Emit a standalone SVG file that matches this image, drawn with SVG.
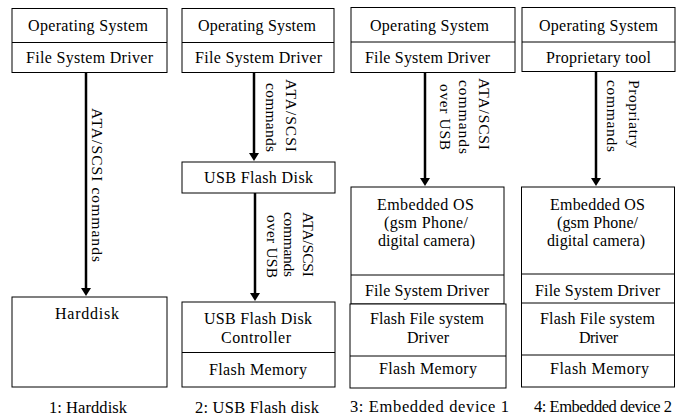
<svg xmlns="http://www.w3.org/2000/svg" width="684" height="416" viewBox="0 0 684 416">
<style>
.box{fill:#fff;stroke:#000;stroke-width:1}
.div{stroke:#000;stroke-width:1}
.t{font-family:"Liberation Serif","Times New Roman",serif;font-size:16px;fill:#000;text-anchor:middle}
.v{font-family:"Liberation Serif","Times New Roman",serif;font-size:15.5px;fill:#000}
.cap{font-family:"Liberation Serif","Times New Roman",serif;font-size:16.5px;fill:#000;text-anchor:middle}
.arr{stroke:#000;stroke-width:2.5;fill:none;marker-end:url(#ah)}
</style>
<defs>
<marker id="ah" viewBox="0 0 8 10" refX="2" refY="5" markerWidth="8" markerHeight="10" markerUnits="userSpaceOnUse" orient="auto">
<path d="M0,0 L8,5 L0,10 z" fill="#000"/>
</marker>
</defs>
<rect width="684" height="416" fill="#fff"/>

<g id="connectors">
<line class="arr" x1="86" y1="72" x2="86" y2="290"/>
<line class="arr" x1="254" y1="72" x2="254" y2="155"/>
<line class="arr" x1="255" y1="193" x2="255" y2="295"/>
<line class="arr" x1="425" y1="73" x2="425" y2="180"/>
<line class="arr" x1="596" y1="71" x2="596" y2="180"/>
<text class="v" transform="translate(92,108) rotate(90)" textLength="154" lengthAdjust="spacing">ATA/SCSI commands</text>
<text class="v" transform="translate(286,79) rotate(90)" textLength="73" lengthAdjust="spacing">ATA/SCSI</text>
<text class="v" transform="translate(266,83) rotate(90)" textLength="69" lengthAdjust="spacing">commands</text>
<text class="v" transform="translate(303,212) rotate(90)" textLength="65" lengthAdjust="spacing">ATA/SCSI</text>
<text class="v" transform="translate(284,212) rotate(90)" textLength="65" lengthAdjust="spacing">commands</text>
<text class="v" transform="translate(267,215) rotate(90)" textLength="63" lengthAdjust="spacing">over USB</text>
<text class="v" transform="translate(479,78) rotate(90)" textLength="72" lengthAdjust="spacing">ATA/SCSI</text>
<text class="v" transform="translate(459,80) rotate(90)" textLength="74" lengthAdjust="spacing">commands</text>
<text class="v" transform="translate(440,84) rotate(90)" textLength="66" lengthAdjust="spacing">over USB</text>
<text class="v" transform="translate(629,80) rotate(90)" textLength="68" lengthAdjust="spacing">Propriatry</text>
<text class="v" transform="translate(607,80) rotate(90)" textLength="72" lengthAdjust="spacing">commands</text>
</g>

<g id="host1">
<rect class="box" x="12" y="8.5" width="155" height="64"/>
<line class="div" x1="12" y1="42.5" x2="167" y2="42.5"/>
<text class="t" x="88" y="31" textLength="120" lengthAdjust="spacing">Operating System</text>
<text class="t" x="89.5" y="63" textLength="127" lengthAdjust="spacing">File System Driver</text>
</g>
<g id="harddisk">
<rect class="box" x="12" y="297" width="155" height="90"/>
<text class="t" x="87" y="319" textLength="64" lengthAdjust="spacing">Harddisk</text>
</g>
<text class="cap" x="88" y="413" textLength="78" lengthAdjust="spacing">1: Harddisk</text>

<g id="host2">
<rect class="box" x="182" y="8.5" width="152" height="64"/>
<line class="div" x1="182" y1="42.5" x2="334" y2="42.5"/>
<text class="t" x="257" y="31" textLength="118" lengthAdjust="spacing">Operating System</text>
<text class="t" x="258.5" y="63" textLength="127" lengthAdjust="spacing">File System Driver</text>
</g>
<g id="usbdisk">
<rect class="box" x="182" y="162" width="153" height="31"/>
<text class="t" x="258.5" y="183" textLength="109" lengthAdjust="spacing">USB Flash Disk</text>
</g>
<g id="usbctrl">
<rect class="box" x="182" y="302" width="153" height="85"/>
<line class="div" x1="182" y1="352.5" x2="335" y2="352.5"/>
<text class="t" x="258" y="324" textLength="108" lengthAdjust="spacing">USB Flash Disk</text>
<text class="t" x="256" y="343" textLength="70" lengthAdjust="spacing">Controller</text>
<text class="t" x="258" y="375" textLength="98" lengthAdjust="spacing">Flash Memory</text>
</g>
<text class="cap" x="257" y="413" textLength="124" lengthAdjust="spacing">2: USB Flash disk</text>

<g id="host3">
<rect class="box" x="351" y="7.5" width="164" height="65"/>
<line class="div" x1="351" y1="42" x2="515" y2="42"/>
<text class="t" x="429.5" y="31" textLength="119" lengthAdjust="spacing">Operating System</text>
<text class="t" x="427.5" y="63" textLength="125" lengthAdjust="spacing">File System Driver</text>
</g>
<g id="embedded3">
<rect class="box" x="351" y="187" width="153" height="117"/>
<line class="div" x1="351" y1="275" x2="504" y2="275"/>
<rect class="box" x="350" y="304" width="156" height="84"/>
<line class="div" x1="350" y1="356" x2="506" y2="356"/>
<text class="t" x="425.5" y="210" textLength="97" lengthAdjust="spacing">Embedded OS</text>
<text class="t" x="426" y="228" textLength="84" lengthAdjust="spacing">(gsm Phone/</text>
<text class="t" x="426.5" y="246" textLength="97" lengthAdjust="spacing">digital camera)</text>
<text class="t" x="427" y="296" textLength="124" lengthAdjust="spacing">File System Driver</text>
<text class="t" x="427" y="324" textLength="114" lengthAdjust="spacing">Flash File system</text>
<text class="t" x="428" y="343" textLength="42" lengthAdjust="spacing">Driver</text>
<text class="t" x="428" y="374" textLength="98" lengthAdjust="spacing">Flash Memory</text>
</g>
<text class="cap" x="429.5" y="412" textLength="159" lengthAdjust="spacing">3: Embedded device 1</text>

<g id="host4">
<rect class="box" x="522" y="7.5" width="153" height="64"/>
<line class="div" x1="522" y1="42" x2="675" y2="42"/>
<text class="t" x="598.5" y="31" textLength="119" lengthAdjust="spacing">Operating System</text>
<text class="t" x="598.5" y="63" textLength="105" lengthAdjust="spacing">Proprietary tool</text>
</g>
<g id="embedded4">
<rect class="box" x="521.5" y="187" width="153" height="200"/>
<line class="div" x1="521.5" y1="274" x2="674.5" y2="274"/>
<line class="div" x1="521.5" y1="303" x2="674.5" y2="303"/>
<line class="div" x1="521.5" y1="355" x2="674.5" y2="355"/>
<text class="t" x="597.5" y="210" textLength="95" lengthAdjust="spacing">Embedded OS</text>
<text class="t" x="597.5" y="228" textLength="81" lengthAdjust="spacing">(gsm Phone/</text>
<text class="t" x="596" y="246" textLength="98" lengthAdjust="spacing">digital camera)</text>
<text class="t" x="597.5" y="296" textLength="125" lengthAdjust="spacing">File System Driver</text>
<text class="t" x="597.5" y="324" textLength="115" lengthAdjust="spacing">Flash File system</text>
<text class="t" x="598.5" y="343" textLength="39" lengthAdjust="spacing">Driver</text>
<text class="t" x="599.5" y="374" textLength="99" lengthAdjust="spacing">Flash Memory</text>
</g>
<text class="cap" x="603" y="412" textLength="138" lengthAdjust="spacing">4: Embedded device 2</text>
</svg>
